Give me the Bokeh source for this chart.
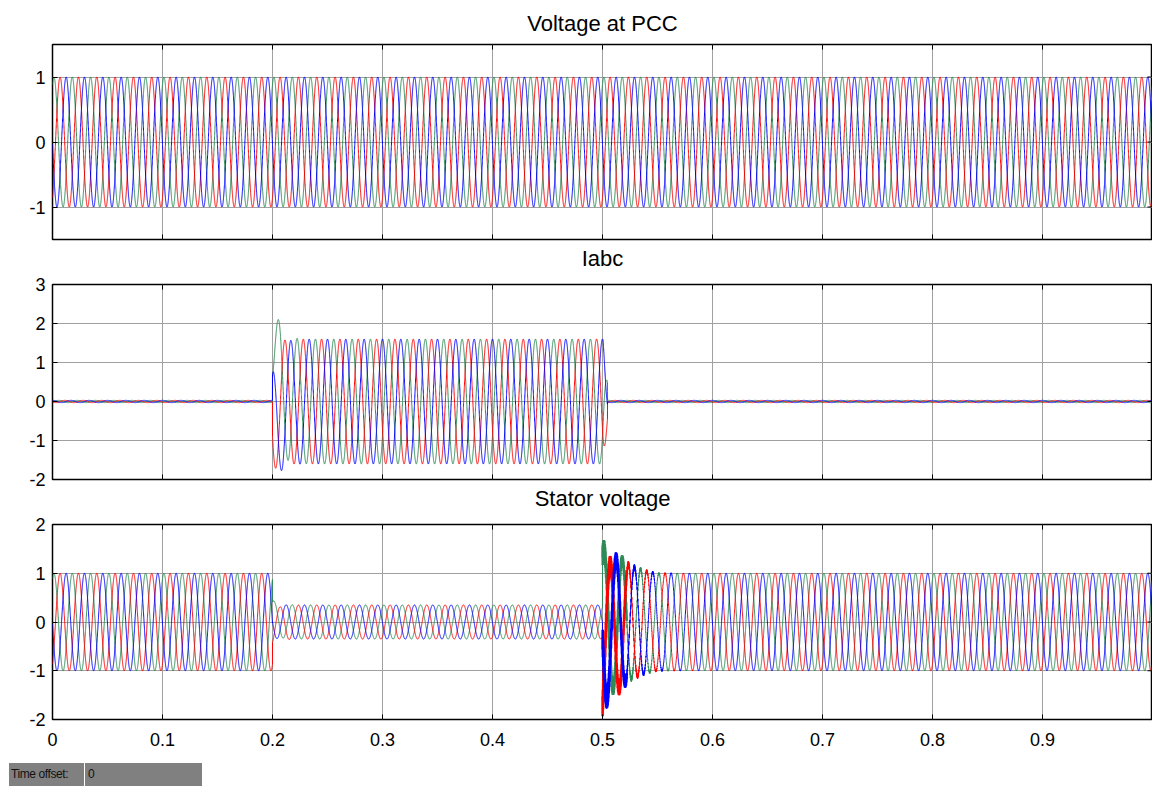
import numpy as np
from bokeh.plotting import figure
from bokeh.models import Range1d, FixedTicker, Div, Title
from bokeh.layouts import column
from bokeh.embed import file_html
from bokeh.resources import INLINE

# ---------------- values ----------------
TITLES = ["Voltage at PCC", "Iabc", "Stator voltage"]
X_TICKS = [0.0, 0.1, 0.2, 0.3, 0.4, 0.5, 0.6, 0.7, 0.8, 0.9]
X_TICK_LABELS = ["0", "0.1", "0.2", "0.3", "0.4", "0.5", "0.6", "0.7", "0.8", "0.9"]
Y_RANGES = [(-1.5, 1.5), (-2.0, 3.0), (-2.0, 2.0)]
Y_TICKS = [[-1, 0, 1], [-2, -1, 0, 1, 2, 3], [-2, -1, 0, 1, 2]]
Y_TICK_LABELS = [["-1", "0", "1"], ["-2", "-1", "0", "1", "2", "3"], ["-2", "-1", "0", "1", "2"]]

PHASE_NAMES = ["green", "red", "blue"]          # drawing order
PHASE_COLORS = ["#2e8b57", "#ff0000", "#0000ff"]
FREQ_HZ = 60.0
SAMPLE_STEP = 5e-5

# voltage at PCC: time of a positive peak of each phase, envelope knots
V_PEAK_T = [0.0013, 0.0069, 0.0124]
PCC_ENV_T = [0.0, 1.0]
PCC_ENV_A = [1.0, 1.0]

# Iabc: envelope knots, peak times, decaying offsets after switching on
I_PEAK_T = [0.2057, 0.2113, 0.2000]
I_ENV_T = [0.0, 0.2, 0.2, 0.5005, 0.5045, 0.5046, 1.0]
I_ENV_A = [0.03, 0.03, 1.6, 1.6, 0.55, 0.03, 0.03]
I_DC_T0 = 0.2
I_DC = [1.5, -0.2, -0.9]
I_DC_TAU = 0.005

# stator voltage: envelope knots, offsets at 0.2 and 0.5, ringing after 0.5
ST_ENV_T = [0.0, 0.2, 0.2, 0.5, 0.5, 0.51, 0.52, 0.53, 0.54, 0.55, 1.0]
ST_ENV_A = [1.0, 1.0, 0.35, 0.35, 1.45, 1.38, 1.25, 1.12, 1.05, 1.0, 1.0]
ST_DC1_T0 = 0.2
ST_DC1 = [0.1, -0.12, 0.02]
ST_DC1_TAU = 0.006
ST_DC2_T0 = 0.5
ST_DC2 = [0.05, -0.5, -0.25]
ST_DC2_TAU = 0.008
ST_RING_HZ = 3000.0
ST_RING_A = [0.22, 0.25, 0.25]
ST_RING_TAU = 0.02
ST_BURST_END = 0.522   # the strokes look heavy up to about here

# ---------------- signals ----------------
t = np.arange(0.0, 1.0 + SAMPLE_STEP / 2, SAMPLE_STEP)
w = 2 * np.pi * FREQ_HZ


def carrier(env_t, env_a, peak_t):
    env = np.interp(t, env_t, env_a)
    return [env * np.cos(w * (t - pk)) for pk in peak_t]


def decay(t0, amps, tau):
    on = t >= t0
    return [np.where(on, a * np.exp(-(t - t0) / tau), 0.0) for a in amps]


pcc = carrier(PCC_ENV_T, PCC_ENV_A, V_PEAK_T)

iabc = carrier(I_ENV_T, I_ENV_A, I_PEAK_T)
for k, d in enumerate(decay(I_DC_T0, I_DC, I_DC_TAU)):
    iabc[k] = iabc[k] + d

stator = carrier(ST_ENV_T, ST_ENV_A, V_PEAK_T)
d1 = decay(ST_DC1_T0, ST_DC1, ST_DC1_TAU)
d2 = decay(ST_DC2_T0, ST_DC2, ST_DC2_TAU)
ring_env = decay(ST_DC2_T0, ST_RING_A, ST_RING_TAU)
for k in range(3):
    ring = ring_env[k] * np.sin(2 * np.pi * ST_RING_HZ * t + k * 2.1)
    stator[k] = stator[k] + d1[k] + d2[k] + ring

SIGNALS = [pcc, iabc, stator]

# ---------------- drawing ----------------
FONT = "Liberation Sans"


def make_title(text, standoff):
    return Title(text=text, align="center", text_font=FONT, text_font_size="22px",
                 text_font_style="normal", text_color="black", standoff=standoff)


def make_panel(i, top_border, bottom_border, show_x_axis, title_above, title_below):
    p = figure(frame_width=1100, frame_height=195,
               x_range=Range1d(0, 1), y_range=Range1d(*Y_RANGES[i]),
               output_backend="svg", toolbar_location=None,
               min_border_left=52, min_border_right=0,
               min_border_top=top_border, min_border_bottom=bottom_border,
               background_fill_color="white", border_fill_color="white",
               outline_line_color="black", outline_line_width=1.5)
    if title_above is not None:
        p.title = make_title(title_above, 17)

    p.xaxis.ticker = FixedTicker(ticks=X_TICKS)
    p.xaxis.major_label_overrides = dict(zip(X_TICKS, X_TICK_LABELS))
    p.yaxis.ticker = FixedTicker(ticks=Y_TICKS[i])
    p.yaxis.major_label_overrides = dict(zip(Y_TICKS[i], Y_TICK_LABELS[i]))

    for ax in list(p.xaxis) + list(p.yaxis):
        ax.axis_line_color = None
        ax.major_tick_in = 5
        ax.major_tick_out = 0
        ax.major_tick_line_color = "black"
        ax.major_tick_line_width = 1
        ax.minor_tick_line_color = None
        ax.major_label_text_font = FONT
        ax.major_label_text_font_size = "18px"
        ax.major_label_text_color = "black"
    p.yaxis.major_label_standoff = 7
    p.xaxis.major_label_standoff = 13
    if not show_x_axis:
        p.xaxis.visible = False
    if title_below is not None:
        p.add_layout(make_title(title_below, 8), "below")

    p.grid.grid_line_color = "#a0a0a0"
    p.grid.grid_line_width = 1

    for k in range(3):
        p.line(t, SIGNALS[i][k], line_color=PHASE_COLORS[k], line_width=1)

    # inward tick marks on the other sides of the box (half of each dash is clipped)
    y_lo, y_hi = Y_RANGES[i]
    p.scatter(X_TICKS, [y_hi] * len(X_TICKS), marker="dash", size=10, angle=np.pi / 2,
              line_color="black", line_width=1)
    if not show_x_axis:
        p.scatter(X_TICKS, [y_lo] * len(X_TICKS), marker="dash", size=10, angle=np.pi / 2,
                  line_color="black", line_width=1)
    p.scatter([1.0] * len(Y_TICKS[i]), Y_TICKS[i], marker="dash", size=10,
              line_color="black", line_width=1)
    return p


p1 = make_panel(0, 44, 35, False, TITLES[0], TITLES[1])
p2 = make_panel(1, 10, 35, False, None, TITLES[2])
p3 = make_panel(2, 10, 44, True, None, None)

# heavier strokes during the switching burst of the stator voltage
burst = (t >= ST_DC2_T0) & (t <= ST_BURST_END)
for k in range(3):
    p3.line(t[burst], stator[k][burst], line_color=PHASE_COLORS[k], line_width=2.5)

offset_html = (
    '<div style="display:flex;margin:0 0 0 9px;height:23px;'
    "font-family:'Liberation Sans',Arial,sans-serif;font-size:12px;line-height:23px;"
    'color:#111;letter-spacing:-0.4px;">'
    '<div style="background:#808080;width:75px;padding-left:2px;box-sizing:border-box;">Time offset:</div>'
    '<div style="background:#808080;width:117px;margin-left:1px;padding-left:3px;box-sizing:border-box;">0</div>'
    '</div>'
)
div = Div(text=offset_html, width=220, height=23, margin=(0, 0, 0, 0))

layout = column(p1, p2, p3, div, spacing=0)
open("out.html", "w").write(file_html(layout, INLINE))
